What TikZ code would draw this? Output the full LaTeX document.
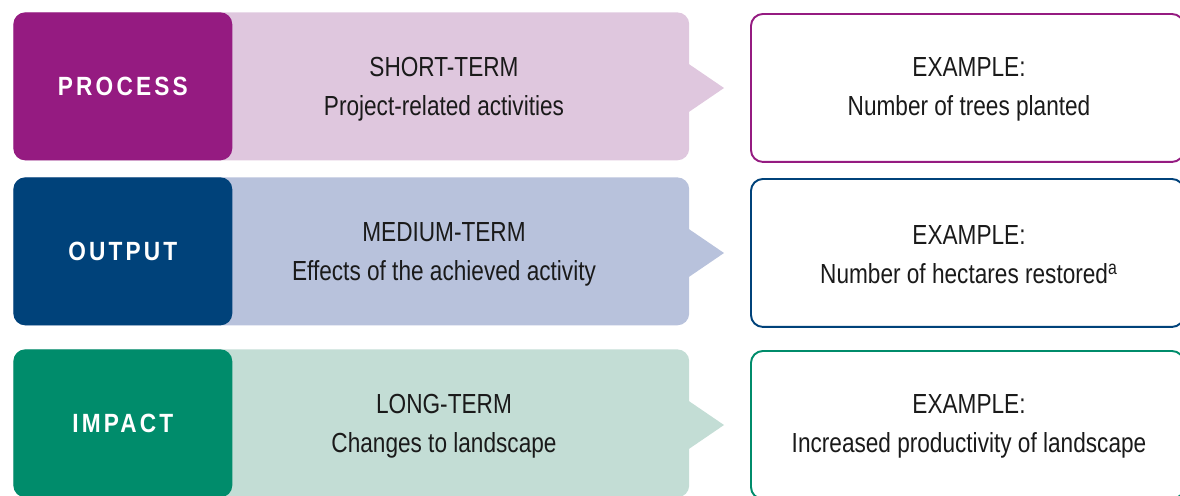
\documentclass[tikz,border=0pt]{standalone}
\usepackage{fontspec}
\setmainfont{Liberation Sans}[FakeStretch=0.82]
\newfontfamily\phasefont{Liberation Sans}[FakeStretch=0.86, LetterSpace=12]
\usetikzlibrary{positioning}

\definecolor{procdark}{HTML}{951B81}
\definecolor{proclight}{HTML}{DFC7DE}
\definecolor{outdark}{HTML}{00427A}
\definecolor{outlight}{HTML}{B8C2DC}
\definecolor{impdark}{HTML}{008C6B}
\definecolor{implight}{HTML}{C3DDD5}
\definecolor{inktext}{HTML}{1A1A1A}

\tikzset{
    lightbox/.style={fill=#1, rounded corners=6.8pt, minimum width=13.52cm, minimum height=2.96cm, inner sep=0pt, anchor=north west},
    phasebox/.style={fill=#1, rounded corners=6.8pt, minimum width=4.38cm, minimum height=2.96cm, inner sep=0pt, anchor=north west,
        text=white, font=\phasefont\bfseries\fontsize{15}{18}\selectfont},
    exbox/.style={draw=#1, line width=1.1pt, rounded corners=6.8pt, minimum width=8.66cm, minimum height=2.96cm, anchor=north west},
    termtext/.style={align=center, text=inktext, font=\fontsize{15.7}{22.3}\selectfont}
}

\begin{document}
\begin{tikzpicture}[x=0.02cm, y=-0.02cm]
    \useasboundingbox (0,0) rectangle (1180,495);

    % Rows: phase, term and example
    \foreach \i/\top/\dark/\light/\phase/\term/\desc/\ex in {
        1/12/procdark/proclight/PROCESS/SHORT-TERM/Project-related activities/Number of trees planted,
        2/177/outdark/outlight/OUTPUT/MEDIUM-TERM/Effects of the achieved activity/Number of hectares restored\textsuperscript{a},
        3/349/impdark/implight/IMPACT/LONG-TERM/Changes to landscape/Increased productivity of landscape} {
        \node[lightbox=\light] (term\i) at (13,\top) {};
        \fill[\light] (680,\top+46) -- (724,\top+76) -- (680,\top+106) -- cycle;
        \node[phasebox=\dark] (phase\i) at (13,\top) {\phase};
        \node[termtext] (desc\i) at (444,\top+77.5) {\term\\\desc};
        \node[exbox=\dark] (ex\i) at (750,\top+1) {};
        \node[termtext] (extext\i) at (969,\top+77.5) {EXAMPLE:\\\ex};
    }
\end{tikzpicture}
\end{document}
